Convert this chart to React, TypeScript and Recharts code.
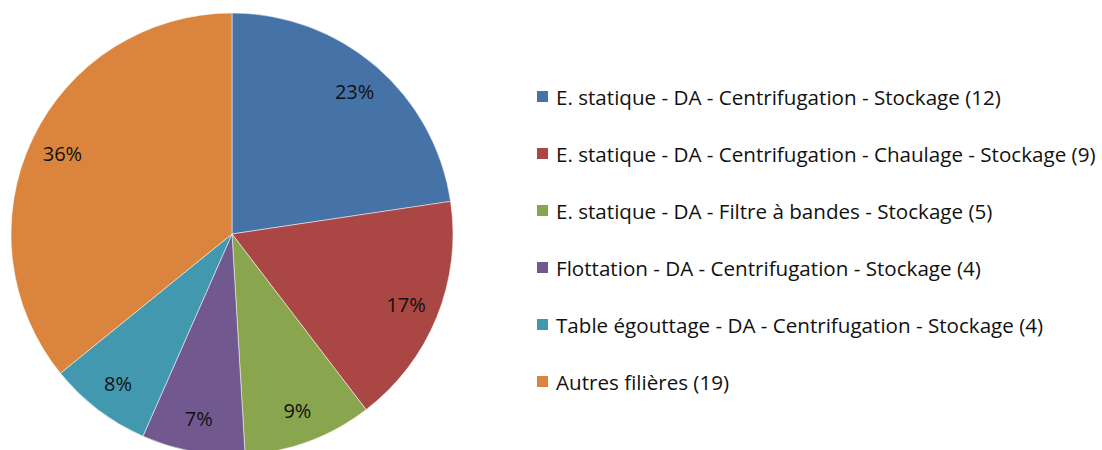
import { PieChart, Pie, Cell, Legend } from 'recharts'

const FONT = "'Open Sans', 'Noto Sans', sans-serif"

const filieres = [
  'E. statique - DA - Centrifugation - Stockage (12)',
  'E. statique - DA - Centrifugation - Chaulage - Stockage (9)',
  'E. statique - DA - Filtre à bandes - Stockage (5)',
  'Flottation - DA - Centrifugation - Stockage (4)',
  'Table égouttage - DA - Centrifugation - Stockage (4)',
  'Autres filières (19)',
]
const counts = [12, 9, 5, 4, 4, 19]
const percentLabels = ['23%', '17%', '9%', '7%', '8%', '36%']
const colors = ['#4572A7', '#AA4643', '#89A54E', '#71588F', '#4198AF', '#DB843D']

const data = filieres.map((name, i) => ({ name, value: counts[i], pct: percentLabels[i] }))

const RADIAN = Math.PI / 180

function renderLabel(props: any) {
  const { cx, cy, midAngle, outerRadius, index } = props
  const r = outerRadius * 0.85
  const x = cx + r * Math.cos(-midAngle * RADIAN)
  const y = cy + r * Math.sin(-midAngle * RADIAN)
  return (
    <text
      x={x}
      y={y}
      fill="#111"
      fontSize={20}
      fontFamily={FONT}
      textAnchor="middle"
      dominantBaseline="central"
    >
      {data[index].pct}
    </text>
  )
}

function LegendContent() {
  return (
    <div style={{ fontFamily: FONT, fontSize: 20.6, color: '#111' }}>
      {data.map((d, i) => (
        <div
          key={d.name}
          style={{ display: 'flex', alignItems: 'center', height: 57, whiteSpace: 'nowrap' }}
        >
          <span
            style={{
              display: 'inline-block',
              width: 11,
              height: 11,
              backgroundColor: colors[i],
              marginRight: 8,
            }}
          />
          {d.name}
        </div>
      ))}
    </div>
  )
}

export default function App() {
  return (
    <div style={{ position: 'absolute', left: 0, top: 0, background: '#fff' }}>
      <PieChart width={1102} height={450} margin={{ top: 0, right: 0, bottom: 0, left: 0 }}>
        <Pie
          data={data}
          dataKey="value"
          nameKey="name"
          cx={232}
          cy={234}
          outerRadius={221}
          startAngle={90}
          endAngle={-270}
          stroke="#ffffff"
          strokeWidth={0.5}
          label={renderLabel}
          labelLine={false}
          isAnimationActive={false}
        >
          {data.map((d, i) => (
            <Cell key={d.name} fill={colors[i]} />
          ))}
        </Pie>
        <Legend
          layout="vertical"
          content={<LegendContent />}
          wrapperStyle={{ position: 'absolute', left: 537, top: 68, width: 565 }}
        />
      </PieChart>
    </div>
  )
}
